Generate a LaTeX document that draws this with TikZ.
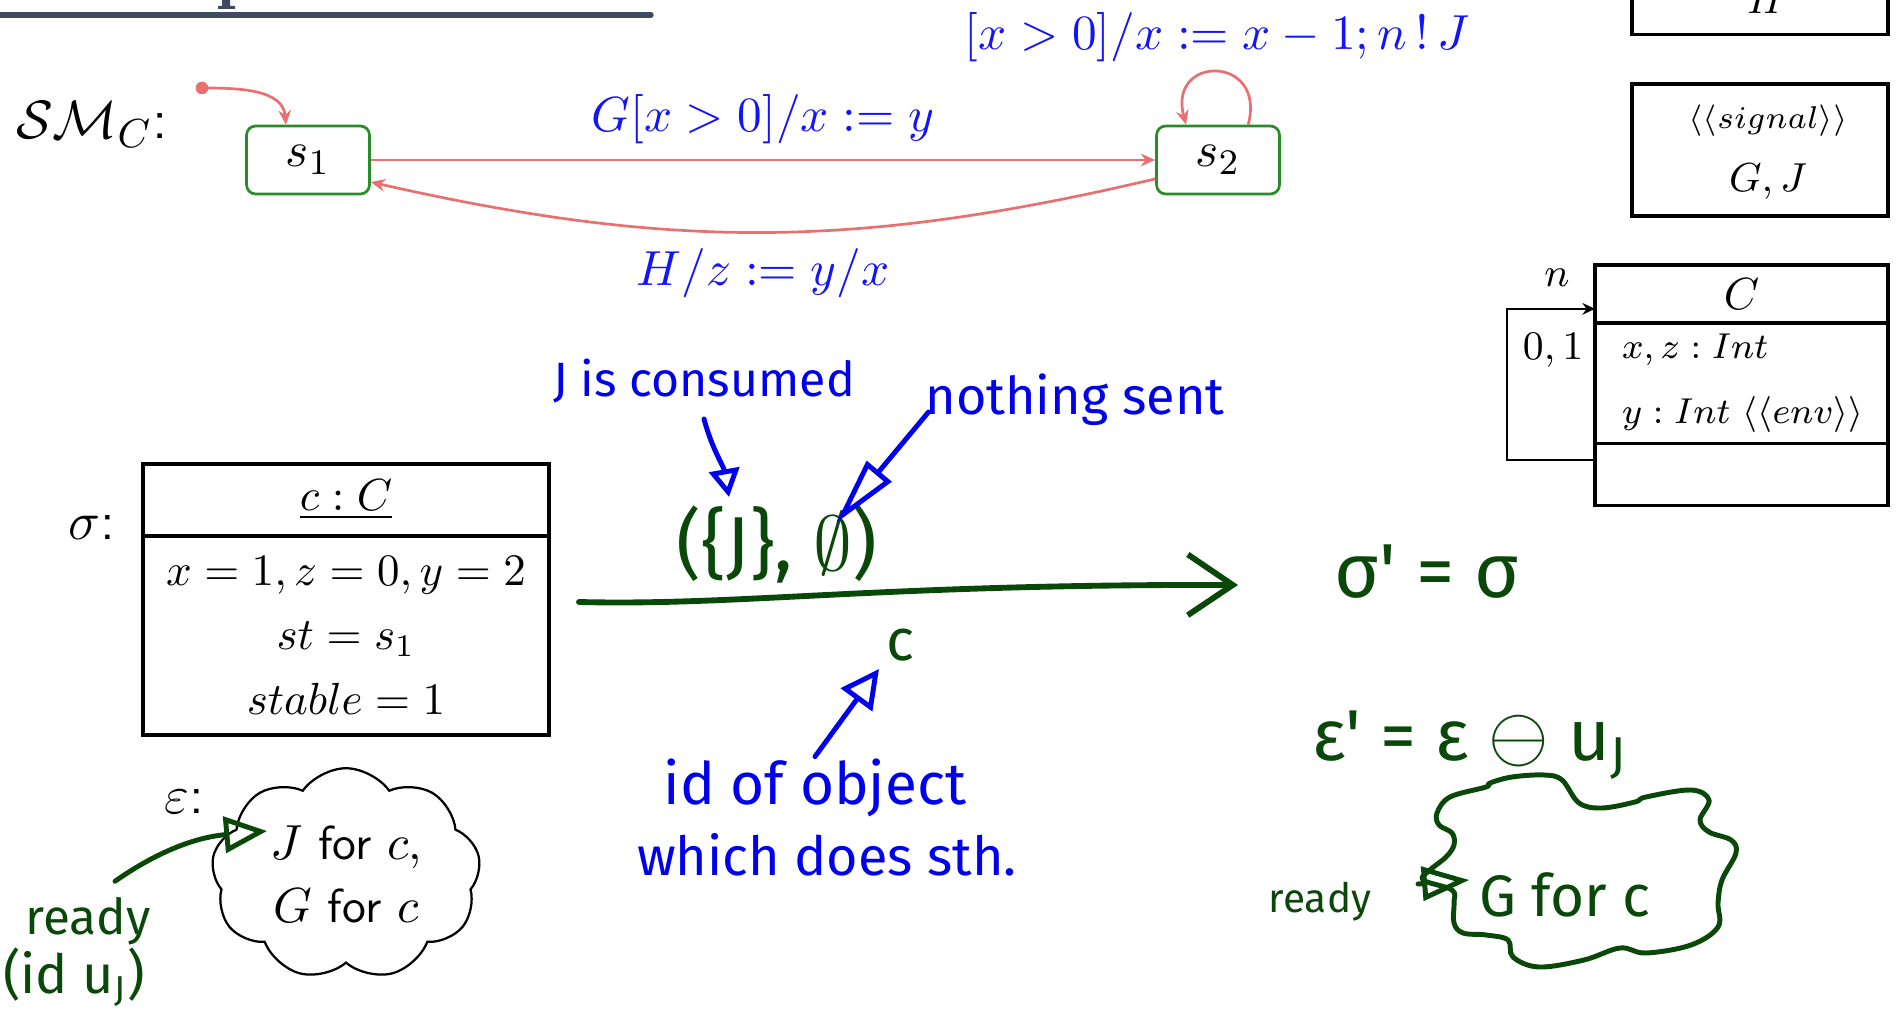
\documentclass[tikz,border=0pt]{standalone}
\usepackage{amsmath,amssymb}
\usepackage{fontspec}
\usepackage{tikz}
\usetikzlibrary{positioning, arrows.meta, calc, shapes.symbols}
\newfontfamily\handfont{Fira Sans}
\definecolor{titleslate}{RGB}{64,74,99}
\definecolor{stategreen}{RGB}{40,140,40}
\definecolor{transred}{RGB}{232,112,112}
\definecolor{labelblue}{RGB}{20,20,250}
\definecolor{inkblue}{RGB}{0,0,235}
\definecolor{inkgreen}{RGB}{10,72,10}

\begin{document}
\begin{tikzpicture}[
        x=0.2222pt, y=-0.2222pt,
        >=Stealth,
        % states of the machine
        state/.style={
            draw=stategreen,
            line width=0.6pt,
            rounded corners=2pt,
            minimum width=27.3pt,
            minimum height=15.1pt,
            font=\fontsize{11.4}{13}\selectfont
        },
        % transitions and their labels
        trans/.style={draw=transred, line width=0.6pt, -{Stealth[length=3.2pt, width=2.8pt]}},
        lbl/.style={text=labelblue, font=\fontsize{11.3}{13}\selectfont},
        % compartments of objects, classes and signals
        umlbox/.style={draw, line width=0.7pt, outer sep=0pt, inner sep=0pt},
        assoc/.style={line width=0.45pt, -{Stealth[length=2.8pt, width=2.6pt]}},
        % handwritten notes
        ink/.style={font=\handfont\fontsize{#1}{#1}\selectfont},
        inkline/.style={line width=1.1pt, line cap=round, line join=round}
    ]

    \useasboundingbox (0,0) rectangle (1900,1010);
    \clip (0,0) rectangle (1900,1010);

    % 1. Slide title rule (cut off at the top)
    \draw[titleslate, line width=1.2pt, line cap=round] (-20,15) -- (651,15);
    \fill[titleslate] (222,-5) rectangle (230,8) (218,6) rectangle (235,9);

    % 2. State machine of C
    \node[font=\fontsize{12.5}{14}\selectfont] (smname) at (92,125) {$\mathcal{SM}_C$\textsf{:}};
    \node[state] (s1) at (308,160) {$s_1$};
    \node[state] (s2) at (1218,160) {$s_2$};
    \coordinate (init) at (202,88);
    \fill[transred] (init) circle[radius=1.4pt];
    \draw[trans] (init) to[out=0, in=95] ([xshift=-4.9pt]s1.north);
    \draw[trans] (s1) -- node[lbl, above] {$G[x > 0]/x := y$} (s2);
    \draw[trans] ([yshift=-4.2pt]s2.west) to[bend left=13] node[lbl, below] {$H/z := y/x$} ([yshift=-4.9pt]s1.east);
    \draw[trans] ([xshift=6.7pt]s2.north) to[out=75, in=105, looseness=3]
        node[lbl, above=-1.3pt] {$[x > 0]/x := x - 1; n\,!\,J$} ([xshift=-7.1pt]s2.north);

    % 3. Signals
    \node[umlbox, minimum width=56.9pt, minimum height=29.3pt] (sigH) at (1760,-31) {};
    \node[font=\fontsize{9}{10}\selectfont] (sigHname) at (1766,0) {$H$};
    \node[umlbox, minimum width=56.9pt, minimum height=29.3pt] (sigGJ) at (1760,150) {};
    \node[font=\fontsize{7}{8}\selectfont] (sigGJtype) at (1768,121) {$\langle\langle signal\rangle\rangle$};
    \node[font=\fontsize{9}{10}\selectfont] (sigGJname) at (1768,182) {$G, J$};

    % 4. Class C with its self association
    \node[umlbox, minimum width=65.1pt, minimum height=12.9pt, font=\fontsize{10}{12}\selectfont] (clshead) at (1741.5,294) {$C$};
    \node[umlbox, minimum width=65.1pt, minimum height=26.7pt, below=0pt of clshead,
        align=left, text width=57.1pt, inner xsep=4pt, font=\fontsize{8.3}{14.4}\selectfont] (clsattr)
        {\hspace*{2pt}\mbox{$x, z : Int$}\\\hspace*{2pt}\mbox{$y : Int\ \langle\langle env\rangle\rangle$}};
    \node[umlbox, minimum width=65.1pt, minimum height=13.8pt, below=0pt of clsattr] (clsops) {};
    \draw[assoc] ([yshift=3.1pt]clsops.west) -- ++(-88,0) |- ([yshift=-3.3pt]clshead.west);
    \node[font=\fontsize{8.8}{10}\selectfont] (assocrole) at (1557,278) {$n$};
    \node[font=\fontsize{8.8}{10}\selectfont] (assocmult) at (1553,350) {$0, 1$};

    % 5. Object c in system state sigma
    \node[font=\fontsize{12}{14}\selectfont] (sigmalbl) at (92,528) {$\sigma$\textsf{:}};
    \node[umlbox, minimum width=90.2pt, minimum height=16pt, font=\fontsize{10}{12}\selectfont] (objhead) at (346,500) {$\underline{c : C}$};
    \node[umlbox, minimum width=90.2pt, minimum height=44.2pt, below=0pt of objhead,
        align=center, font=\fontsize{10}{14.4}\selectfont] (objbody)
        {$x = 1, z = 0, y = 2$\\$st = s_1$\\$stable = 1$};

    % 6. Ether
    \node[font=\fontsize{12}{14}\selectfont] (epslbl) at (184,802) {$\varepsilon$\textsf{:}};
    \node[draw, cloud, cloud puffs=9, cloud puff arc=110, aspect=1.4, line width=0.5pt,
        minimum width=59.8pt, minimum height=47pt, inner sep=0pt, align=center,
        font=\fontsize{10.6}{14}\selectfont] (env) at (346,874)
        {$J$ \textsf{for} $c$,\\$G$ \textsf{for} $c$};

    % 7. Handwritten: the step
    \coordinate (stepfrom) at (579,602);
    \coordinate (stepto) at (1238,585);
    \draw[inkline, inkgreen, line width=1.3pt, -{Straight Barb[length=10pt, width=13.5pt]}]
        (stepfrom) .. controls (740,606) and (880,584) .. (stepto);
    \node[ink=17, text=inkgreen] (consume) at (777,545) {(\{J\}, $\emptyset$)};
    \node[ink=13, text=inkgreen] (actor) at (900,645) {c};
    \node[ink=17, text=inkgreen] (sigmanew) at (1427,572) {σ' = σ};

    % 8. Handwritten: blue notes
    \node[ink=10.7, text=inkblue] (consumed) at (704,381) {J is consumed};
    \node[ink=11.6, text=inkblue] (nothing) at (1075,400) {nothing sent};
    \node[ink=13, text=inkblue] (idobj) at (815,788) {id of object};
    \node[ink=12, text=inkblue] (idobj2) at (827,855) {which does sth.};
    \draw[inkline, inkblue, -{Triangle[open, length=6.2pt, width=6.7pt]}]
        (consumed.south) to[out=-75, in=100] ([shift={(-48,-48)}]consume.center);
    \draw[inkline, inkblue, -{Triangle[open, length=15pt, width=7pt]}]
        ([shift={(19,12)}]nothing.west) -- ([shift={(59,-22)}]consume.center);
    \draw[inkline, inkblue, -{Triangle[open, length=8.5pt, width=8.5pt]}]
        ([yshift=-3pt]idobj.north) -- ([shift={(-21,-8)}]actor.south);

    % 9. Handwritten: ready event on the left
    \node[ink=11, text=inkgreen] (readyL) at (88,921) {ready};
    \node[ink=12, text=inkgreen] (idL) at (74,977) {(id u\textsubscript{J})};
    \draw[inkline, inkgreen, -{Triangle[open, length=9.5pt, width=8pt]}]
        ([xshift=6pt]readyL.north) to[out=35, in=185] ([shift={(-79,-43)}]env.center);

    % 10. Handwritten: new ether on the right
    \node[ink=16, text=inkgreen] (epsnew) at (1470,745) {ε' = ε $\ominus$ u\textsubscript{J}};
    \draw[inkline, inkgreen] plot[smooth cycle, tension=0.6] coordinates {
        (1486,787) (1450,797) (1437,813) (1439,825) (1452,833) (1454,845) (1446,857)
        (1430,870) (1423,880) (1452,890) (1454,903) (1454,923) (1463,933) (1486,935)
        (1508,940) (1513,957) (1539,967) (1584,960) (1620,948) (1646,953) (1691,945)
        (1718,927) (1718,903) (1722,880) (1736,853) (1731,840) (1709,832) (1700,820)
        (1709,800) (1691,790) (1646,797) (1635,802) (1602,808) (1579,803) (1562,780)
        (1544,775) (1512,777) (1490,783)};
    \node[ink=13, text=inkgreen] (gforc) at (1565,895) {G for c};
    \node[ink=9, text=inkgreen] (readyR) at (1320,902) {ready};
    \draw[inkline, inkgreen, -{Triangle[open, length=10.5pt, width=7.5pt]}]
        ([shift={(31,-18)}]readyR.east) -- ([shift={(6,-15)}]gforc.west);

\end{tikzpicture}
\end{document}
